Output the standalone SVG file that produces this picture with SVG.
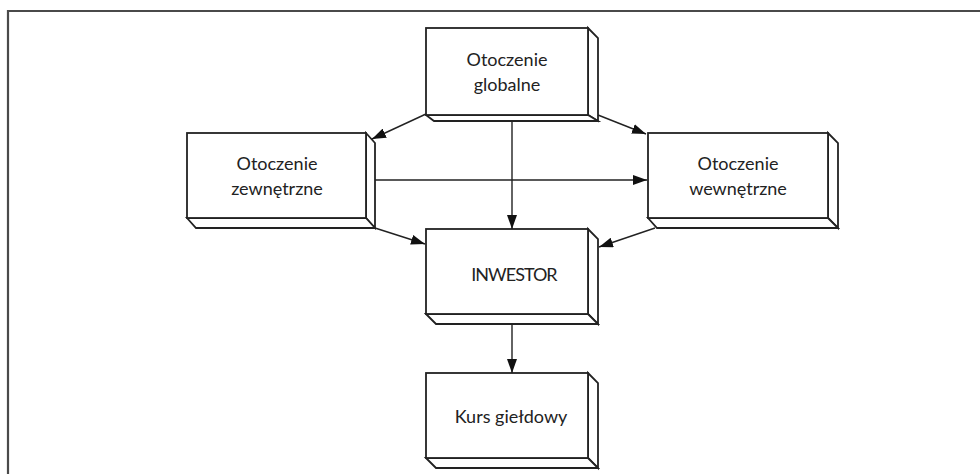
<svg xmlns="http://www.w3.org/2000/svg" width="980" height="474" viewBox="0 0 980 474">
<style>
.face{fill:#fff;stroke:#222;stroke-width:1.8;stroke-linejoin:miter}
.lbl{font-family:Lato,"Open Sans","Liberation Sans",sans-serif;font-size:18px;fill:#222;text-anchor:middle}
.con{fill:none;stroke:#222;stroke-width:1.4}
</style>
<defs>
<marker id="ah" viewBox="0 0 14 10" refX="14" refY="5" markerWidth="14" markerHeight="10" markerUnits="userSpaceOnUse" orient="auto">
<path d="M0,0 L14,5 L0,10 z" fill="#111"/>
</marker>
</defs>
<rect x="0" y="0" width="980" height="474" fill="#fff"/>
<path d="M8,480 L8,11 L990,11" fill="none" stroke="#4a4a4a" stroke-width="2.2"/>

<g id="globalne">
<path class="face" d="M588,28 L598,38 L598,121 L588,115 Z"/>
<path class="face" d="M426,115 L434,121 L598,121 L588,115 Z"/>
<rect class="face" x="426" y="28" width="162" height="87"/>
<text class="lbl" x="507" y="66">Otoczenie</text>
<text class="lbl" x="507" y="91">globalne</text>
</g>

<g id="zewnetrzne">
<path class="face" d="M366,133 L375,143 L375,228 L366,218 Z"/>
<path class="face" d="M187,218 L196,228 L375,228 L366,218 Z"/>
<rect class="face" x="187" y="133" width="179" height="85"/>
<text class="lbl" x="277" y="170">Otoczenie</text>
<text class="lbl" x="277" y="195">zewnętrzne</text>
</g>

<g id="wewnetrzne">
<path class="face" d="M828,133 L838,143 L838,228 L828,218 Z"/>
<path class="face" d="M648,218 L657,228 L838,228 L828,218 Z"/>
<rect class="face" x="648" y="133" width="180" height="85"/>
<text class="lbl" x="738" y="170">Otoczenie</text>
<text class="lbl" x="738" y="195">wewnętrzne</text>
</g>

<g id="inwestor">
<path class="face" d="M588,229 L598,239 L598,324 L588,314 Z"/>
<path class="face" d="M426,314 L436,324 L598,324 L588,314 Z"/>
<rect class="face" x="426" y="229" width="162" height="85"/>
<text class="lbl" x="514" y="281" style="letter-spacing:-1px">INWESTOR</text>
</g>

<g id="kurs">
<path class="face" d="M588,373 L598,383 L598,468 L588,458 Z"/>
<path class="face" d="M426,458 L436,468 L598,468 L588,458 Z"/>
<rect class="face" x="426" y="373" width="162" height="85"/>
<text class="lbl" x="511" y="423">Kurs giełdowy</text>
</g>

<g id="connectors">
<line class="con" x1="426" y1="114" x2="372" y2="139" marker-end="url(#ah)"/>
<line class="con" x1="598" y1="115" x2="646" y2="134" marker-end="url(#ah)"/>
<line class="con" x1="512" y1="121" x2="512" y2="229" marker-end="url(#ah)"/>
<line class="con" x1="375" y1="180" x2="647" y2="180" marker-end="url(#ah)"/>
<line class="con" x1="375" y1="228" x2="425" y2="244" marker-end="url(#ah)"/>
<line class="con" x1="655" y1="228" x2="599" y2="247" marker-end="url(#ah)"/>
<line class="con" x1="512" y1="324" x2="512" y2="373" marker-end="url(#ah)"/>
</g>
</svg>
